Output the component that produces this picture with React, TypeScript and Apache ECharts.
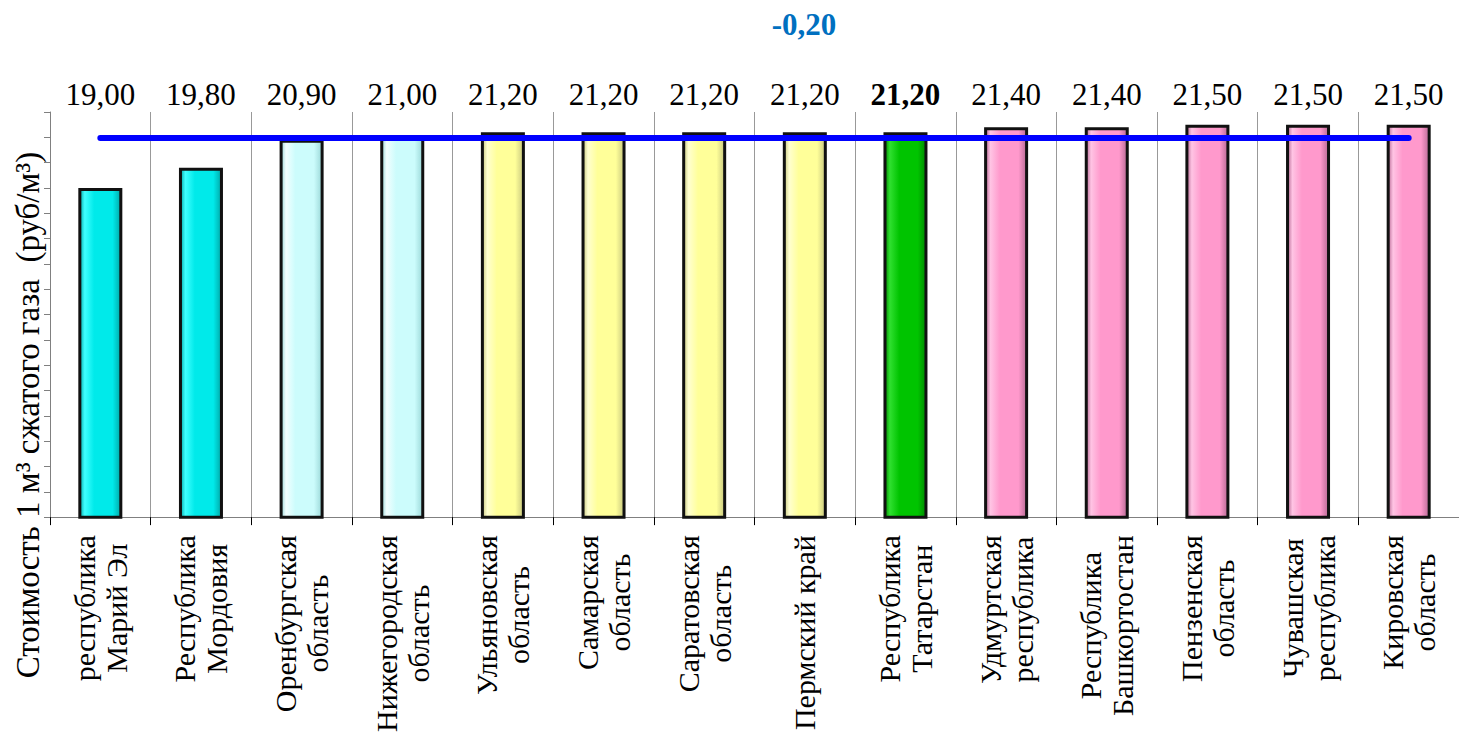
import React, { useEffect, useRef } from "react";
import * as echarts from "echarts";

const CATEGORIES = [
  "республика\nМарий Эл",
  "Республика\nМордовия",
  "Оренбургская\nобласть",
  "Нижегородская\nобласть",
  "Ульяновская\nобласть",
  "Самарская\nобласть",
  "Саратовская\nобласть",
  "Пермский край",
  "Республика\nТатарстан",
  "Удмуртская\nреспублика",
  "Республика\nБашкортостан",
  "Пензенская\nобласть",
  "Чувашская\nреспублика",
  "Кировская\nобласть",
];

const VALUES = [19.0, 19.8, 20.9, 21.0, 21.2, 21.2, 21.2, 21.2, 21.2, 21.4, 21.4, 21.5, 21.5, 21.5];

// colour group of each bar
const GROUPS = ["cyan", "cyan", "pale", "pale", "yellow", "yellow", "yellow", "yellow", "green", "pink", "pink", "pink", "pink", "pink"];

const HIGHLIGHT_INDEX = 8;
const AVERAGE = 21.0;
const DIFF_TEXT = "-0,20";
const Y_TITLE = "Стоимость 1 м³ сжатого газа  (руб/м³)";

const Y_MIN = 6;
const Y_MAX = 22;
const Y_INTERVAL = 1;

const FONT = "Liberation Serif";

const PALETTE: Record<string, [string, string, string]> = {
  // [edge dark, highlight, base]
  cyan: ["#00a8a8", "#40ffff", "#00eaea"],
  pale: ["#9ad8d8", "#f2ffff", "#ccfcfc"],
  yellow: ["#c8c880", "#ffffd0", "#ffff99"],
  green: ["#008a00", "#30e030", "#00c400"],
  pink: ["#b86a95", "#ffc4e4", "#ff99cc"],
};

function barColor(group: string) {
  const [dark, hi, base] = PALETTE[group];
  return new echarts.graphic.LinearGradient(0, 0, 1, 0, [
    { offset: 0, color: dark },
    { offset: 0.12, color: hi },
    { offset: 0.35, color: base },
    { offset: 0.8, color: base },
    { offset: 1, color: dark },
  ]);
}

export default function App() {
  const ref = useRef<HTMLDivElement>(null);

  useEffect(() => {
    if (!ref.current) return;
    const chart = echarts.init(ref.current, undefined, { renderer: "svg" });

    const valueLabels = VALUES.map((v) => v.toFixed(2).replace(".", ","));

    chart.setOption({
      animation: false,
      backgroundColor: "#ffffff",
      textStyle: { fontFamily: FONT },
      grid: { left: 50, right: -10, top: 112, bottom: 214, containLabel: false },
      xAxis: [
        {
          type: "category",
          data: CATEGORIES,
          boundaryGap: true,
          axisLine: { show: true, lineStyle: { color: "#808080", width: 1 } },
          axisTick: { show: true, length: 8, lineStyle: { color: "#000", width: 1 } },
          splitLine: { show: true, lineStyle: { color: "#999", width: 1 } },
          axisLabel: {
            interval: 0,
            rotate: 90,
            margin: 18,
            color: "#000",
            fontFamily: FONT,
            fontSize: 30,
            formatter: (v: string) =>
              v
                .split("\n")
                .map((l) => `{c|${l}}`)
                .join("\n"),
            rich: {
              c: { align: "center", fontFamily: FONT, fontSize: 30, lineHeight: 32, color: "#000" },
            },
          },
        },
        {
          type: "category",
          position: "top",
          data: valueLabels,
          axisLine: { show: false },
          axisTick: { show: false },
          splitLine: { show: false },
          axisLabel: {
            interval: 0,
            margin: 2,
            color: "#000",
            fontFamily: FONT,
            fontSize: 31,
            formatter: (v: string, i: number) => (i === HIGHLIGHT_INDEX ? `{b|${v}}` : `{n|${v}}`),
            rich: {
              n: { fontFamily: FONT, fontSize: 31, color: "#000" },
              b: { fontFamily: FONT, fontSize: 31, fontWeight: "bold", color: "#000" },
            },
          },
        },
      ],
      yAxis: {
        type: "value",
        min: Y_MIN,
        max: Y_MAX,
        interval: Y_INTERVAL,
        axisLabel: { show: false },
        axisLine: { show: true, lineStyle: { color: "#808080", width: 1 } },
        axisTick: { show: true, length: 6, lineStyle: { color: "#808080", width: 1 } },
        splitLine: { show: false },
      },
      series: [
        {
          type: "bar",
          xAxisIndex: 0,
          barWidth: 44,
          data: VALUES.map((v, i) => ({
            value: v,
            itemStyle: {
              color: barColor(GROUPS[i]),
              borderColor: "#111",
              borderWidth: 3,
            },
          })),
          markLine: {
            silent: true,
            symbol: ["none", "none"],
            label: { show: false },
            lineStyle: { color: "#0000ff", width: 6, type: "solid", cap: "round" },
            data: [
              [
                { coord: [CATEGORIES[0], AVERAGE] },
                { coord: [CATEGORIES[CATEGORIES.length - 1], AVERAGE] },
              ],
            ],
          },
        },
      ],
      graphic: [
        {
          type: "text",
          x: 804,
          y: 24,
          style: {
            text: DIFF_TEXT,
            fill: "#0070c0",
            fontFamily: FONT,
            fontSize: 31,
            fontWeight: "bold",
            align: "center",
            verticalAlign: "middle",
          },
        },
        {
          type: "text",
          x: 28,
          y: 415,
          rotation: Math.PI / 2,
          style: {
            text: Y_TITLE,
            fill: "#000",
            fontFamily: FONT,
            fontSize: 33,
            align: "center",
            verticalAlign: "middle",
          },
        },
      ],
    });

    return () => chart.dispose();
  }, []);

  return (
    <div
      ref={ref}
      style={{ position: "fixed", left: 0, top: 0, width: 1459, height: 735 }}
    />
  );
}
